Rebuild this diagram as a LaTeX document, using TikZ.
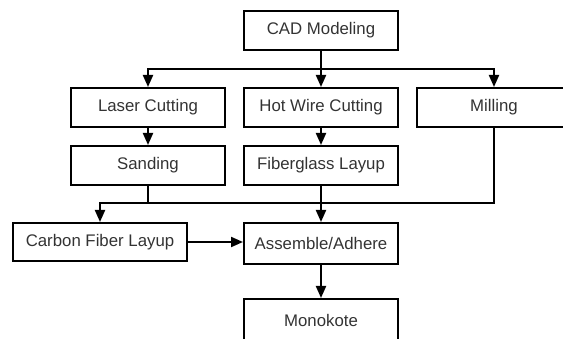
\documentclass[tikz,border=0pt]{standalone}
\usepackage{fontspec}
\setmainfont{Liberation Sans}
\usetikzlibrary{arrows.meta}

\begin{document}
\begin{tikzpicture}[x=1pt, y=-1pt, >={Triangle[length=12pt,width=10pt]},
    box/.style={draw, line width=2pt, inner sep=0pt, minimum width=154pt,
      minimum height=39pt, text=black!80, font=\fontsize{16.8}{20}\selectfont},
    link/.style={line width=2pt}]
  \clip (0,0) rectangle (563,339);
  \node[box] (cad) at (321,30.5) {CAD Modeling};
  \node[box] (laser) at (148,107.5) {Laser Cutting};
  \node[box] (hotwire) at (321,107.5) {Hot Wire Cutting};
  \node[box] (milling) at (494,107.5) {Milling};
  \node[box] (sanding) at (148,165.5) {Sanding};
  \node[box] (fiberglass) at (321,165.5) {Fiberglass Layup};
  \node[box, minimum width=174pt, minimum height=38pt] (carbon) at (100,242) {Carbon Fiber Layup};
  \node[box, minimum height=41pt] (assemble) at (321,243.5) {Assemble/Adhere};
  \node[box, minimum height=42pt] (monokote) at (321,320) {Monokote};
  \coordinate (busa) at (321,69);
  \coordinate (busb) at (148,203);
  \draw[link] (cad) -- (busa);
  \draw[link, ->] (busa) -| (laser);
  \draw[link, ->] (busa) -- (hotwire);
  \draw[link, ->] (busa) -| (milling);
  \draw[link, ->] (laser) -- (sanding);
  \draw[link, ->] (hotwire) -- (fiberglass);
  \draw[link] (sanding) -- (busb);
  \draw[link] (milling) |- (busb);
  \draw[link, ->] (busb) -| (carbon);
  \draw[link, ->] (fiberglass) -- (assemble);
  \draw[link, ->] (carbon) -- (carbon -| assemble.west);
  \draw[link, ->] (assemble) -- (monokote);
\end{tikzpicture}
\end{document}
